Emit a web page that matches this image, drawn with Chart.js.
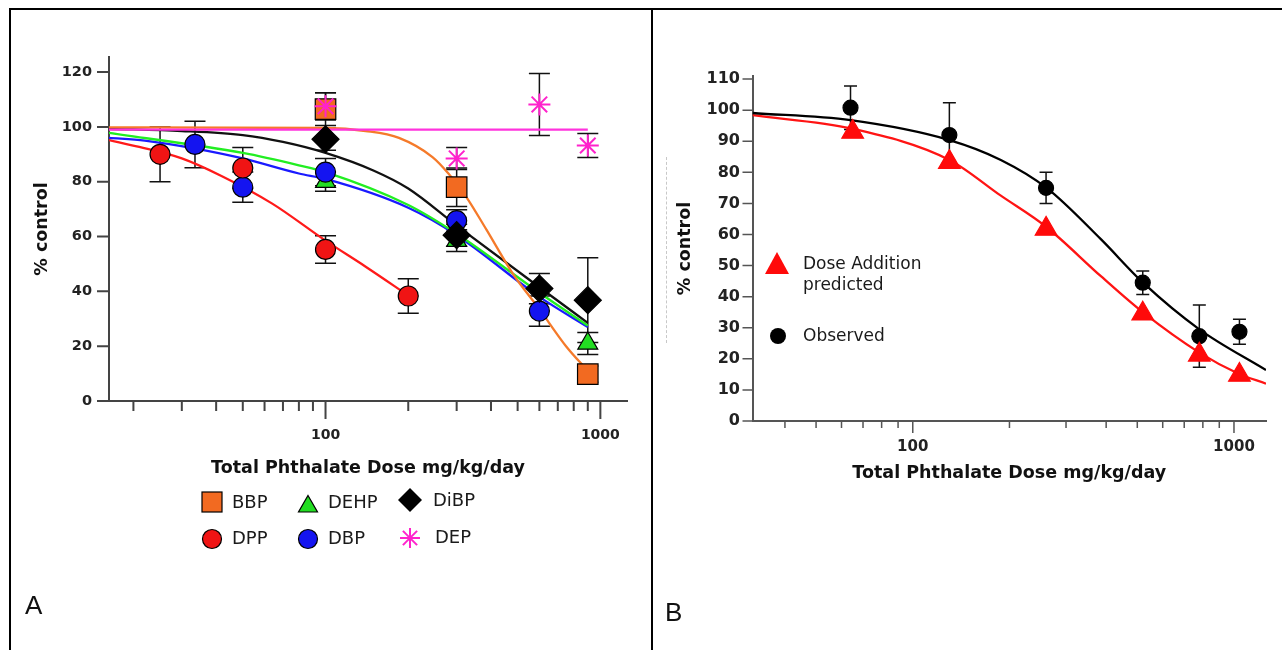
<!DOCTYPE html>
<html>
<head>
<meta charset="utf-8">
<title>Phthalate dose response</title>
<script src="https://cdn.jsdelivr.net/npm/chart.js@4.4.1/dist/chart.umd.min.js"></script>
<style>
  html, body { margin: 0; padding: 0; background: #fff; }
  body { width: 1282px; height: 650px; position: relative; overflow: hidden; font-family: "DejaVu Sans", sans-serif; }
  .rule { position: absolute; background: #000; }
  canvas { position: absolute; top: 0; }
  #chartA { left: 0; }
  #chartB { left: 652px; }
  .panel-label { position: absolute; font-family: "Liberation Sans", Arial, sans-serif; font-size: 26px; line-height: 1; color: #111; }
  .leg { position: absolute; font-size: 18px; line-height: 1; color: #1a1a1a; white-space: nowrap; transform: translateY(-50%); }
  .legB { font-size: 17px; line-height: 21px; }
  .mk { position: absolute; overflow: visible; }
  .dash { position: absolute; left: 666px; top: 157px; height: 186px; border-left: 1px dashed #c8c8c8; }
</style>
</head>
<body>
<div class="rule" style="left:9px; top:8px; width:1273px; height:2px;"></div>
<div class="rule" style="left:9px; top:8px; width:2px; height:642px;"></div>
<div class="rule" style="left:651px; top:8px; width:2px; height:642px;"></div>
<div class="dash"></div>

<canvas id="chartA" width="652" height="650" style="width:652px;height:650px;"></canvas>
<canvas id="chartB" width="630" height="650" style="width:630px;height:650px;"></canvas>

<!-- legend, panel A -->
<svg class="mk" width="22" height="22" style="left:201px; top:491px"><rect x="1" y="1" width="20" height="20" fill="#F26A21" stroke="#000" stroke-width="1.2"/></svg>
<div class="leg" style="left:232px; top:502px">BBP</div>
<svg class="mk" width="22" height="20" style="left:297px; top:494px"><polygon points="11,1.5 20.5,18 1.5,18" fill="#22DD22" stroke="#000" stroke-width="1.2"/></svg>
<div class="leg" style="left:328px; top:502px">DEHP</div>
<svg class="mk" width="26" height="26" style="left:397px; top:487px"><polygon points="13,1 25,13 13,25 1,13" fill="#000"/></svg>
<div class="leg" style="left:433px; top:500px">DiBP</div>
<svg class="mk" width="22" height="22" style="left:201px; top:528px"><circle cx="11" cy="11" r="9.5" fill="#F01414" stroke="#000" stroke-width="1.2"/></svg>
<div class="leg" style="left:232px; top:538px">DPP</div>
<svg class="mk" width="22" height="22" style="left:297px; top:528px"><circle cx="11" cy="11" r="9.5" fill="#1414F0" stroke="#000" stroke-width="1.2"/></svg>
<div class="leg" style="left:328px; top:538px">DBP</div>
<svg class="mk" width="24" height="24" style="left:398px; top:526px" stroke="#FF22CC" stroke-width="2">
  <line x1="12" y1="2" x2="12" y2="22"/><line x1="2" y1="12" x2="22" y2="12"/>
  <line x1="4.9" y1="4.9" x2="19.1" y2="19.1"/><line x1="19.1" y1="4.9" x2="4.9" y2="19.1"/>
</svg>
<div class="leg" style="left:435px; top:537px">DEP</div>

<!-- legend, panel B -->
<svg class="mk" width="26" height="24" style="left:764px; top:251px"><polygon points="13,1 25,23 1,23" fill="#FF0A0A"/></svg>
<div class="leg legB" style="left:803px; top:274px">Dose Addition<br>predicted</div>
<svg class="mk" width="18" height="18" style="left:769px; top:327px"><circle cx="9" cy="9" r="8" fill="#000"/></svg>
<div class="leg legB" style="left:803px; top:335px">Observed</div>

<div class="panel-label" style="left:25px; top:592px">A</div>
<div class="panel-label" style="left:665px; top:599px">B</div>

<script>
// ---------- Panel A: single phthalates ----------
const xTicksA = [20, 30, 40, 50, 60, 70, 80, 90, 100, 200, 300, 400, 500, 600, 700, 800, 900, 1000];
const xLabelsA = [100, 1000];
const yTicksA = [0, 20, 40, 60, 80, 100, 120];

const bbpDose = [100, 300, 900];
const bbpMean = [106.5, 78, 9.8];
const bbpErr = [6, 7, 3];
const bbpCurveDose = [16.3, 100, 140, 185, 245, 280, 325, 385, 480, 600, 750, 900];
const bbpCurveY = [99.8, 99.6, 98.5, 96, 89, 83, 74.5, 62.5, 46.5, 33.5, 20, 11];

const dppDose = [25, 50, 100, 200];
const dppMean = [90, 85, 55.3, 38.3];
const dppErr = [10, 7.5, 5, 6.3];
const dppCurveDose = [16.3, 21, 30, 42, 64, 100, 140, 200];
const dppCurveY = [95.2, 92.7, 88.5, 82, 72, 58.5, 49, 38.5];

const dehpDose = [100, 300, 900];
const dehpMean = [80, 58.5, 21];
const dehpErr = [3.5, 4, 4];
const dehpCurveDose = [16.3, 50, 80, 100, 200, 300, 600, 900];
const dehpCurveY = [97.8, 90.5, 86, 83.5, 71.5, 61, 39.5, 27.5];

const dbpDose = [33.5, 50, 100, 300, 600];
const dbpMean = [93.6, 78, 83.5, 65.8, 32.8];
const dbpErr = [8.5, 5.5, 5, 4, 5.5];
const dbpCurveDose = [16.3, 22, 34, 50, 80, 100, 200, 300, 600, 900];
const dbpCurveY = [96, 95, 92, 88.5, 83, 81, 70.5, 60.5, 38, 27];

const dibpDose = [100, 300, 600, 900];
const dibpMean = [95.5, 60.5, 41, 36.8];
const dibpErr = [4, 4, 5.5, 15.5];
const dibpCurveDose = [16.3, 30, 50, 70, 100, 150, 200, 300, 600, 900];
const dibpCurveY = [99.3, 98.5, 97, 94.5, 90.5, 84, 77.5, 64, 41.5, 28.5];

const depDose = [100, 300, 600, 900];
const depMean = [107.5, 88.5, 108.2, 93.2];
const depErr = [5, 4, 11.3, 4.4];
const depCurveDose = [16.3, 900];
const depCurveY = [99, 99];

// ---------- Panel B: mixture ----------
const xTicksB = [40, 50, 60, 70, 80, 90, 100, 200, 300, 400, 500, 600, 700, 800, 900, 1000];
const xLabelsB = [100, 1000];
const yTicksB = [0, 10, 20, 30, 40, 50, 60, 70, 80, 90, 100, 110];

const obsDose = [64, 130, 260, 520, 780, 1040];
const obsMean = [100.8, 92, 75, 44.5, 27.3, 28.7];
const obsErr = [7, 10.4, 5, 3.8, 10, 4];
const obsCurveDose = [31.7, 64, 130, 188, 261, 385, 521, 780, 1258];
const obsCurveY = [99.1, 96.8, 90.4, 84, 75, 58.5, 44.5, 29.5, 16.4];

const predDose = [65, 130, 260, 520, 780, 1040];
const predMean = [93, 83.3, 61.8, 34.5, 21.3, 14.8];
const predCurveDose = [31.7, 65, 130, 188, 260, 386, 520, 780, 1030, 1258];
const predCurveY = [98.4, 94, 84, 72.5, 62.5, 46.5, 35, 22, 15.3, 12];

// ---------- helpers ----------
const pts = (xs, ys) => xs.map((x, i) => ({ x: x, y: ys[i] }));

function curve(xs, ys, color) {
    return {
        data: pts(xs, ys),
        showLine: true,
        borderColor: color,
        borderWidth: 2.3,
        pointRadius: 0,
        cubicInterpolationMode: 'monotone',
        fill: false,
        order: 20
    };
}

function markers(xs, ys, errs, style, radius, fill, stroke, order) {
    return {
        data: pts(xs, ys),
        errorBars: errs,
        pointStyle: style,
        pointRadius: radius,
        pointHoverRadius: radius,
        backgroundColor: fill,
        borderColor: stroke,
        borderWidth: style === 'star' ? 2 : 1.2,
        order: order
    };
}

// tick marks drawn by hand so major and minor ticks can differ in length
const tickMarks = {
    id: 'tickMarks',
    afterDraw(chart, args, opts) {
        const { ctx, scales: { x, y } } = chart;
        ctx.save();
        ctx.strokeStyle = opts.color;
        ctx.lineWidth = opts.width;
        ctx.beginPath();
        x.ticks.forEach(t => {
            const px = x.getPixelForValue(t.value);
            const len = opts.major.includes(t.value) ? opts.majorLen : opts.minorLen;
            ctx.moveTo(px, x.top);
            ctx.lineTo(px, x.top + len);
        });
        y.ticks.forEach(t => {
            const py = y.getPixelForValue(t.value);
            ctx.moveTo(y.right, py);
            ctx.lineTo(y.right - opts.yLen, py);
        });
        ctx.stroke();
        ctx.restore();
    }
};

// vertical error bars with caps, under the markers
const errorBars = {
    id: 'errorBars',
    beforeDatasetsDraw(chart, args, opts) {
        const { ctx, scales: { x, y } } = chart;
        ctx.save();
        ctx.strokeStyle = opts.color;
        ctx.lineWidth = opts.width;
        chart.data.datasets.forEach(ds => {
            if (!ds.errorBars) return;
            ds.data.forEach((p, i) => {
                const e = ds.errorBars[i];
                if (!e) return;
                const px = x.getPixelForValue(p.x);
                const top = y.getPixelForValue(p.y + e);
                const bot = y.getPixelForValue(p.y - e);
                ctx.beginPath();
                ctx.moveTo(px, top); ctx.lineTo(px, bot);
                ctx.moveTo(px - opts.cap, top); ctx.lineTo(px + opts.cap, top);
                ctx.moveTo(px - opts.cap, bot); ctx.lineTo(px + opts.cap, bot);
                ctx.stroke();
            });
        });
        ctx.restore();
    }
};

function axes(cfg) {
    const tickFont = s => ({ family: 'DejaVu Sans', weight: 'bold', size: s });
    return {
        x: {
            type: 'logarithmic',
            min: cfg.xMin,
            max: cfg.xMax,
            afterBuildTicks: s => { s.ticks = cfg.xTicks.map(v => ({ value: v })); },
            afterFit: s => { s.height = cfg.xHeight; },
            grid: { display: false, drawTicks: false },
            border: { display: true, color: cfg.axisColor, width: 2 },
            ticks: {
                autoSkip: false,
                maxRotation: 0,
                padding: cfg.xPad,
                color: '#222',
                font: tickFont(cfg.xFont),
                callback: v => cfg.xLabels.includes(v) ? String(v) : ''
            },
            title: {
                display: true,
                text: 'Total Phthalate Dose mg/kg/day',
                color: '#111',
                font: { family: 'DejaVu Sans', weight: 'bold', size: 17.5 },
                padding: { top: 0, bottom: 0.5 }
            }
        },
        y: {
            min: 0,
            max: cfg.yMax,
            afterBuildTicks: s => { s.ticks = cfg.yTicks.map(v => ({ value: v })); },
            afterFit: s => { s.width = cfg.yWidth; },
            grid: { display: false, drawTicks: false },
            border: { display: true, color: cfg.axisColor, width: 2 },
            ticks: { padding: cfg.yPad, color: '#222', font: tickFont(cfg.yFont) },
            title: {
                display: true,
                text: '% control',
                color: '#111',
                font: { family: 'DejaVu Sans', weight: 'bold', size: 17.5 },
                padding: { top: cfg.yTitlePad, bottom: 0 }
            }
        }
    };
}

const commonOptions = {
    responsive: false,
    devicePixelRatio: 1,
    animation: false,
    events: []
};

// ---------- Chart A ----------
new Chart(document.getElementById('chartA'), {
    type: 'scatter',
    data: {
        datasets: [
            curve(depCurveDose, depCurveY, '#FF33DD'),
            curve(bbpCurveDose, bbpCurveY, '#F57A2A'),
            curve(dibpCurveDose, dibpCurveY, '#111111'),
            curve(dehpCurveDose, dehpCurveY, '#22EE22'),
            curve(dbpCurveDose, dbpCurveY, '#1A1AFF'),
            curve(dppCurveDose, dppCurveY, '#FF1A1A'),
            markers(dehpDose, dehpMean, dehpErr, 'triangle', 11.5, '#22DD22', '#000', 5),
            markers(dbpDose, dbpMean, dbpErr, 'circle', 10, '#1414F0', '#000', 4),
            markers(dppDose, dppMean, dppErr, 'circle', 10, '#F01414', '#000', 3),
            markers(dibpDose, dibpMean, dibpErr, 'rectRot', 13.5, '#000', '#000', 2),
            markers(bbpDose, bbpMean, bbpErr, 'rect', 14.5, '#F26A21', '#000', 1),
            markers(depDose, depMean, depErr, 'star', 11, '#FF22CC', '#FF22CC', 0)
        ]
    },
    options: Object.assign({}, commonOptions, {
        layout: { padding: { left: 31, right: 25, top: 57, bottom: 171 } },
        scales: axes({
            xMin: 16.3, xMax: 1250, xTicks: xTicksA, xLabels: xLabelsA,
            xHeight: 78, xPad: 26, xFont: 14,
            yMax: 125.5, yTicks: yTicksA, yWidth: 78, yPad: 17, yFont: 14.5, yTitlePad: 0.8,
            axisColor: '#444'
        }),
        plugins: {
            legend: { display: false },
            tooltip: { enabled: false },
            tickMarks: { color: '#444', width: 2, major: xLabelsA, majorLen: 18, minorLen: 10, yLen: 12 },
            errorBars: { color: '#111', width: 1.5, cap: 10.5 }
        }
    }),
    plugins: [tickMarks, errorBars]
});

// ---------- Chart B ----------
new Chart(document.getElementById('chartB'), {
    type: 'scatter',
    data: {
        datasets: [
            curve(obsCurveDose, obsCurveY, '#000000'),
            curve(predCurveDose, predCurveY, '#FF1414'),
            markers(obsDose, obsMean, obsErr, 'circle', 7.5, '#000', '#000', 1),
            markers(predDose, predMean, null, 'triangle', 12.5, '#FF0A0A', '#FF0A0A', 0)
        ]
    },
    options: Object.assign({}, commonOptions, {
        layout: { padding: { left: 22.5, right: 16, top: 76, bottom: 166 } },
        scales: axes({
            xMin: 31.7, xMax: 1258, xTicks: xTicksB, xLabels: xLabelsB,
            xHeight: 63, xPad: 17, xFont: 15,
            yMax: 111, yTicks: yTicksB, yWidth: 78, yPad: 12.5, yFont: 16, yTitlePad: 0.3,
            axisColor: '#555'
        }),
        plugins: {
            legend: { display: false },
            tooltip: { enabled: false },
            tickMarks: { color: '#555', width: 1.5, major: xLabelsB, majorLen: 12, minorLen: 7, yLen: 10 },
            errorBars: { color: '#111', width: 1.5, cap: 6.5 }
        }
    }),
    plugins: [tickMarks, errorBars]
});
</script>
</body>
</html>
